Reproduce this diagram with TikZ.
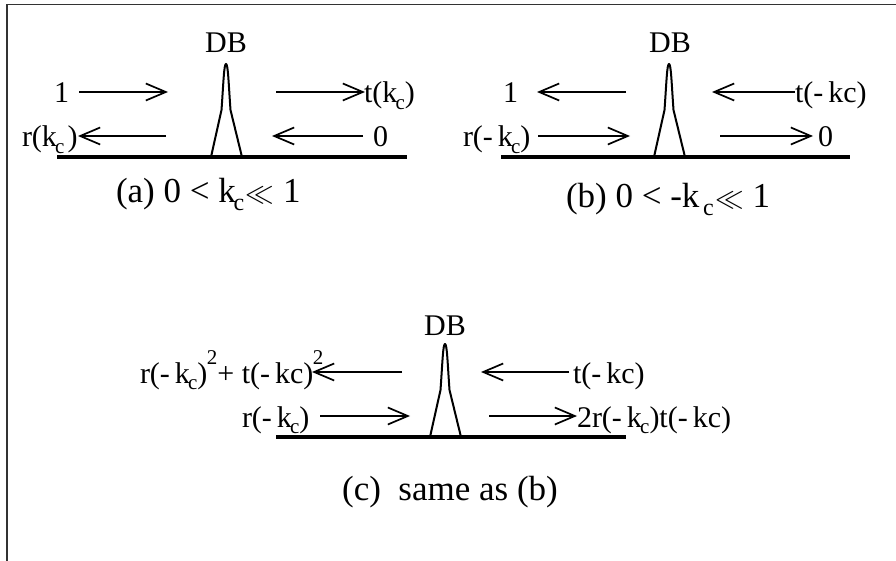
\documentclass[tikz,border=0pt]{standalone}
\usepackage{fontspec}
\setmainfont{Liberation Serif}
\usetikzlibrary{arrows.meta}
\newcommand\subc{\kern-0.06em\raisebox{-0.22em}{\fontsize{21}{21}\selectfont c}}
\newcommand\capsubc{\kern-0.06em\raisebox{-0.22em}{\fontsize{24}{24}\selectfont c}}
\newcommand\suptwo{\kern-0.02em\raisebox{0.62em}{\fontsize{21}{21}\selectfont 2}}
\newcommand\mll{\kern0.04em\scalebox{1.15}{$\ll$}}
\begin{document}
\begin{tikzpicture}[x=1pt,y=-1pt,
  lbl/.style={inner sep=0pt,outer sep=0pt,font=\fontsize{30}{36}\selectfont},
  caplbl/.style={inner sep=0pt,outer sep=0pt,font=\fontsize{35}{40}\selectfont},
  flow/.style={line width=1.7pt,-{Straight Barb[length=20pt,width=17pt,line width=1.7pt]}},
  ground/.style={line width=4.5pt},
  barrier/.style={line width=2pt,line join=round},
  frame/.style={line width=1.6pt,black!80}]
\useasboundingbox (0,0) rectangle (896,561);
% frame
\coordinate (f1) at (7,561);
\coordinate (f2) at (7,4.5);
\coordinate (f3) at (896,4.5);
\draw[frame] (f1) -- (f2) -- (f3);

% ---------- panel (a)
\begin{scope}[shift={(226,157)}]
\draw[barrier] (-15,0) -- (-4.5,-47) .. controls (-2.5,-75) and (-2,-93) .. (0,-93) .. controls (2,-93) and (2.5,-75) .. (4.5,-47) -- (16,0);
\end{scope}
\coordinate (ga1) at (57,157); \coordinate (ga2) at (407,157);
\draw[ground] (ga1) -- (ga2);
\node[lbl,anchor=base] (dba) at (226,53) {DB};
\node[lbl,anchor=base west] (a1) at (54,103) {1};
\coordinate (a1s) at (79,92); \coordinate (a1e) at (168,92);
\draw[flow] (a1s) -- (a1e);
\coordinate (a2s) at (276,92); \coordinate (a2e) at (365,92);
\draw[flow] (a2s) -- (a2e);
\node[lbl,anchor=base west] (at) at (364,103) {t(k\subc)};
\node[lbl,anchor=base west] (ar) at (22,147) {r(k\subc\kern0.1em)};
\coordinate (a3s) at (166,136); \coordinate (a3e) at (78,136);
\draw[flow] (a3s) -- (a3e);
\coordinate (a4s) at (363,136); \coordinate (a4e) at (272,136);
\draw[flow] (a4s) -- (a4e);
\node[lbl,anchor=base west] (a0) at (373,147) {0};
\node[caplbl,anchor=base west] (capa) at (116,203) {(a) 0 {\textless} k\capsubc\mll\ 1};

% ---------- panel (b)
\begin{scope}[shift={(669,157)}]
\draw[barrier] (-15,0) -- (-4.5,-47) .. controls (-2.5,-75) and (-2,-93) .. (0,-93) .. controls (2,-93) and (2.5,-75) .. (4.5,-47) -- (16,0);
\end{scope}
\coordinate (gb1) at (501,157); \coordinate (gb2) at (850,157);
\draw[ground] (gb1) -- (gb2);
\node[lbl,anchor=base] (dbb) at (670,53) {DB};
\node[lbl,anchor=base west] (b1) at (503,103) {1};
\coordinate (b1s) at (626,92); \coordinate (b1e) at (537,92);
\draw[flow] (b1s) -- (b1e);
\coordinate (b2s) at (795,92); \coordinate (b2e) at (712,92);
\draw[flow] (b2s) -- (b2e);
\node[lbl,anchor=base west] (bt) at (795,103) {t(-\,kc)};
\node[lbl,anchor=base west] (br) at (463,147) {r(-\,k\subc)};
\coordinate (b3s) at (538,136); \coordinate (b3e) at (630,136);
\draw[flow] (b3s) -- (b3e);
\coordinate (b4s) at (720,136); \coordinate (b4e) at (813,136);
\draw[flow] (b4s) -- (b4e);
\node[lbl,anchor=base west] (b0) at (818,147) {0};
\node[caplbl,anchor=base west] (capb) at (566,208) {(b) 0 {\textless} -k\,\capsubc\mll\ 1};

% ---------- panel (c)
\begin{scope}[shift={(445,437)}]
\draw[barrier] (-15,0) -- (-4.5,-47) .. controls (-2.5,-75) and (-2,-93) .. (0,-93) .. controls (2,-93) and (2.5,-75) .. (4.5,-47) -- (16,0);
\end{scope}
\coordinate (gc1) at (276,437); \coordinate (gc2) at (626,437);
\draw[ground] (gc1) -- (gc2);
\node[lbl,anchor=base] (dbc) at (445,335) {DB};
\node[lbl,anchor=base west] (cl) at (140,383) {r(-\,k\subc)\suptwo+ t(-\,kc)\suptwo};
\coordinate (c1s) at (402,372); \coordinate (c1e) at (312,372);
\draw[flow] (c1s) -- (c1e);
\coordinate (c2s) at (569,372); \coordinate (c2e) at (481,372);
\draw[flow] (c2s) -- (c2e);
\node[lbl,anchor=base west] (ct) at (573,383) {t(-\,kc)};
\node[lbl,anchor=base west] (cr) at (242,427) {r(-\,k\subc)};
\coordinate (c3s) at (320,416); \coordinate (c3e) at (410,416);
\draw[flow] (c3s) -- (c3e);
\coordinate (c4s) at (489,416); \coordinate (c4e) at (577,416);
\draw[flow] (c4s) -- (c4e);
\node[lbl,anchor=base west] (c2r) at (577,427) {2r(-\,k\subc)t(-\,kc)};
\node[caplbl,anchor=base] (capc) at (450,500) {(c)\ \ same as (b)};
\end{tikzpicture}
\end{document}
